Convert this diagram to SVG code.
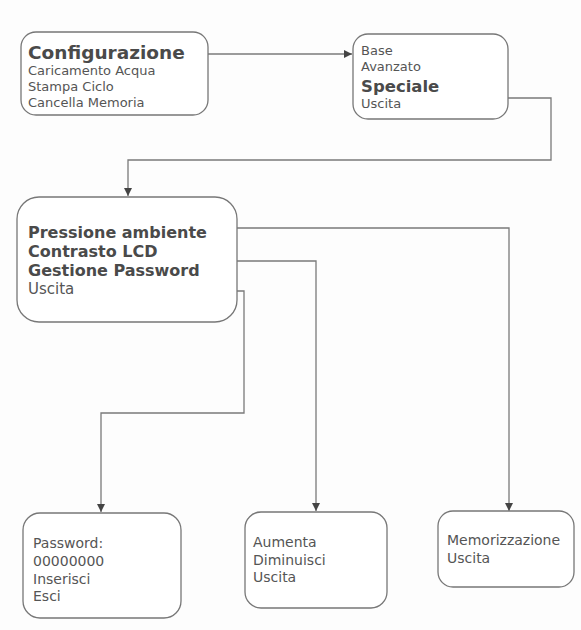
<svg xmlns="http://www.w3.org/2000/svg" width="581" height="630" viewBox="0 0 581 630">
<defs>
<marker id="ah" viewBox="0 0 10 10" refX="10" refY="5" markerWidth="8" markerHeight="8" markerUnits="userSpaceOnUse" orient="auto">
<path d="M0,0 L10,5 L0,10 z" fill="#444"/>
</marker>
<style>
.box{fill:#fff;stroke:#777;stroke-width:1.3}
.c{fill:none;stroke:#7a7a7a;stroke-width:1.3}
text{font-family:"DejaVu Sans",Verdana,sans-serif;fill:#555}
.n{font-size:13px}
.m{font-size:14px}
.b{font-weight:bold;fill:#4a4a4a}
</style>
</defs>
<rect width="581" height="630" fill="#fdfdfd"/>
<g id="connectors">
<path class="c" d="M208,54 H352" marker-end="url(#ah)"/>
<path class="c" d="M508,98 H551 V160 H128 V196" marker-end="url(#ah)"/>
<path class="c" d="M237,228 H509 V511" marker-end="url(#ah)"/>
<path class="c" d="M237,261 H316 V511" marker-end="url(#ah)"/>
<path class="c" d="M237,291 H244 V413 H101 V512" marker-end="url(#ah)"/>
</g>
<g id="configurazione">
<rect class="box" x="21" y="32" width="187" height="83" rx="15"/>
<text x="28" y="59" class="b" font-size="18.5">Configurazione</text>
<text x="28" y="75" class="n">Caricamento Acqua</text>
<text x="28" y="91" class="n">Stampa Ciclo</text>
<text x="28" y="107" class="n">Cancella Memoria</text>
</g>
<g id="menu">
<rect class="box" x="353" y="34" width="155" height="85" rx="15"/>
<text x="361" y="55" class="n">Base</text>
<text x="361" y="71" class="n">Avanzato</text>
<text x="361" y="92" class="b" font-size="16.5">Speciale</text>
<text x="361" y="108" class="n">Uscita</text>
</g>
<g id="speciale">
<rect class="box" x="17" y="197" width="220" height="125" rx="22"/>
<text x="28" y="238" class="b" font-size="16">Pressione ambiente</text>
<text x="28" y="257" class="b" font-size="16">Contrasto LCD</text>
<text x="28" y="276" class="b" font-size="16">Gestione Password</text>
<text x="28" y="294" font-size="15">Uscita</text>
</g>
<g id="password">
<rect class="box" x="23" y="513" width="158" height="105" rx="17"/>
<text x="33" y="548" class="m">Password:</text>
<text x="33" y="566" class="m">00000000</text>
<text x="33" y="584" class="m">Inserisci</text>
<text x="33" y="601" class="m">Esci</text>
</g>
<g id="contrasto">
<rect class="box" x="245" y="512" width="142" height="96" rx="16"/>
<text x="253" y="547" class="m">Aumenta</text>
<text x="253" y="565" class="m">Diminuisci</text>
<text x="253" y="582" class="m">Uscita</text>
</g>
<g id="pressione">
<rect class="box" x="438" y="511" width="136" height="76" rx="15"/>
<text x="447" y="545" class="m">Memorizzazione</text>
<text x="447" y="563" class="m">Uscita</text>
</g>
</svg>
